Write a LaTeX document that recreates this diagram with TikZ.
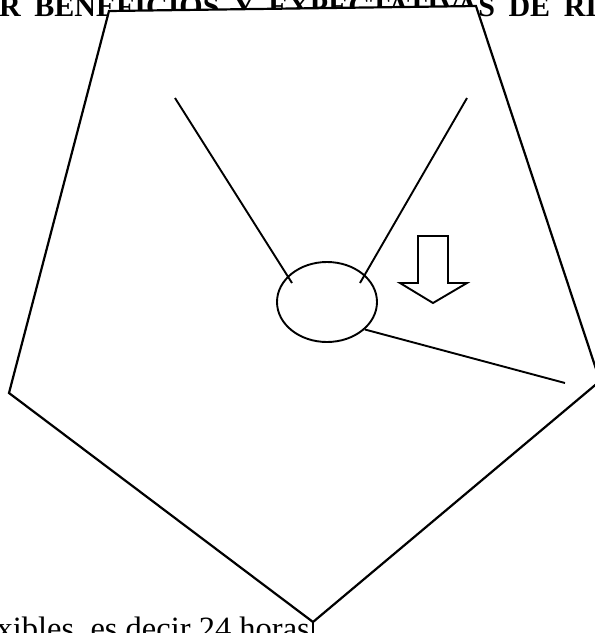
\documentclass[tikz,border=0pt]{standalone}
\usepackage{fontspec}
\setmainfont{Liberation Serif}
\usepackage{xcolor}
\usepackage{tikz}
\usetikzlibrary{calc,shapes.geometric}
\definecolor{ink}{HTML}{000000}
\tikzset{edge/.style={draw=ink,line width=2.2pt,line join=miter},
  spoke/.style={draw=ink,line width=1.9pt},
  hubnode/.style={ellipse,draw=ink,line width=1.9pt,minimum width=100pt,minimum height=80pt,inner sep=0pt},
  txt/.style={inner sep=0pt,text=ink}}

\begin{document}
\begin{tikzpicture}[x=1pt,y=-1pt]
\useasboundingbox (0,0) rectangle (595,633);
\clip (0,0) rectangle (595,633);
% texts behind the shape
\node[txt,anchor=base west,font=\fontsize{30}{32}\selectfont\bfseries] (title) at (-1,16.5)
  {\makebox[598pt][s]{R BENEFICIOS Y EXPECTATIVAS DE RI}};
\node[txt,anchor=base east,font=\fontsize{32.5}{34}\selectfont] (foot) at (310,639) {xibles, es decir 24 horas};
% pentagon
\draw[edge,fill=white] (109,11)--(476,6)--(600,381)--(313,622)--(9,393)--cycle;
\draw[ink,line width=1.2pt] (313,622)--(313,633);
% hub and spokes
\node[hubnode] (hub) at (327,302) {};
\coordinate (s1) at (175,98);
\coordinate (s1e) at (292,283);
\coordinate (s2) at (467,98);
\coordinate (s2e) at (360,283);
\coordinate (s3) at (565,383);
\draw[spoke] (s1)--(s1e);
\draw[spoke] (s2)--(s2e);
\draw[spoke] (hub.-36)--(s3);
% down arrow
\draw[spoke,line join=miter] (418,236)--(448,236)--(448,283)--(467,283)--(433,303)--(400,283)--(418,283)--cycle;
\end{tikzpicture}
\end{document}
